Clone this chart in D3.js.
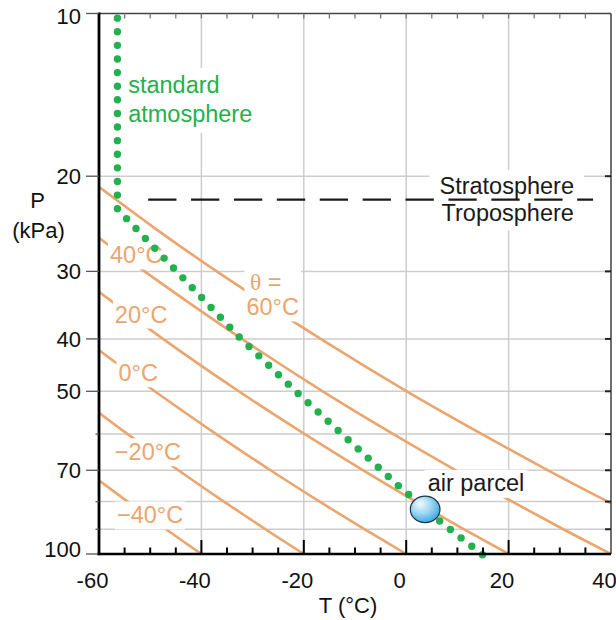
<!DOCTYPE html>
<html><head><meta charset="utf-8">
<script src="https://cdn.jsdelivr.net/npm/d3@7"></script>
<style>
body{margin:0;background:#fff}
svg{display:block;font-family:"Liberation Sans",Arial,Helvetica,sans-serif}
</style>
</head><body>
<svg id="c" width="616" height="620"></svg>
<script>
// ---------- data ----------
const tempMajorTicks = [-60, -40, -20, 0, 20, 40];
const tempTickLabels = ["-60", "-40", "-20", "0", "20", "40"];
const pressureLabelTicks = [10, 20, 30, 40, 50, 70, 100];
const pressureGridLines = [20, 30, 40, 50, 60, 70, 80, 90];
const pressureMinorTicks = [60, 80, 90];

// dry adiabats: temperature (°C) at each pressure level (kPa)
const adiabatPressures = [20, 25, 30, 40, 50, 60, 70, 80, 90, 100];
const thetaNames = ["−40°C", "−20°C", "0°C", "20°C", "40°C", "60°C"];
const adiabatMinus40 = [-125.9, -116.2, -107.9, -93.7, -81.9, -71.7, -62.6, -54.4, -46.9, -40];
const adiabatMinus20 = [-113.3, -102.8, -93.7, -78.3, -65.5, -54.4, -44.5, -35.6, -27.5, -20];
const adiabat0 = [-100.7, -89.3, -79.5, -62.9, -49.1, -37.1, -26.5, -16.9, -8.1, 0];
const adiabat20 = [-88.1, -75.9, -65.3, -47.5, -32.7, -19.8, -8.4, 1.9, 11.3, 20];
const adiabat40 = [-75.4, -62.4, -51.1, -32.1, -16.3, -2.5, 9.7, 20.7, 30.7, 40];
const adiabat60 = [-62.8, -49.0, -37.0, -16.7, 0.1, 14.8, 27.7, 39.4, 50.1, 60];

// standard atmosphere profile
const stdAtmP = [10.2, 23.0, 29.6, 39.7, 50.5, 61.5, 74.8, 87.0, 100.3];
const stdAtmT = [-56.4, -56.4, -45.4, -32.6, -21.1, -11.3, -1.5, 6.6, 14.9];

// tropopause
const tropopauseP = 22.1;
const tropopauseT = [-50.4, 36.5];

// air parcel
const parcelT = 3.7;
const parcelP = 82.7;

// ---------- drawing ----------
const svg = d3.select("#c");
const x = d3.scaleLinear().domain([-60, 40]).range([99, 611]);
const y = d3.scaleLog().domain([10, 100]).range([13.5, 554]);

const GREEN = "#22b14c";
const ORANGE = "#eba56d";
const GRID = "#cdcdcd";

svg.append("defs").append("clipPath").attr("id", "plot")
  .append("rect").attr("x", x(-60)).attr("y", y(10))
  .attr("width", x(40) - x(-60)).attr("height", y(100) - y(10));

// gridlines
const grid = svg.append("g").attr("stroke", GRID).attr("stroke-width", 1.5);
grid.selectAll(".gx").data(tempMajorTicks.filter(t => t > -60 && t < 40)).join("line")
  .attr("x1", d => x(d)).attr("x2", d => x(d)).attr("y1", y(10)).attr("y2", y(100));
grid.selectAll(".gy").data(pressureGridLines).join("line")
  .attr("x1", x(-60)).attr("x2", x(40)).attr("y1", d => y(d)).attr("y2", d => y(d));

// adiabats
const adiabats = [adiabatMinus40, adiabatMinus20, adiabat0, adiabat20, adiabat40, adiabat60];
const line = d3.line().x(d => x(d[0])).y(d => y(d[1])).curve(d3.curveCatmullRom);
svg.append("g").attr("clip-path", "url(#plot)")
  .selectAll("path").data(adiabats).join("path")
  .attr("d", arr => line(arr.map((t, i) => [t, adiabatPressures[i]])))
  .attr("fill", "none").attr("stroke", ORANGE).attr("stroke-width", 2.6);

// labels with white boxes
function boxedText(g, lines, opts) {
  const grp = g.append("g");
  const rect = grp.append("rect").attr("fill", "#fff");
  const txt = grp.append("text").attr("font-size", opts.size).attr("fill", opts.color)
    .attr("text-anchor", opts.anchor || "start");
  lines.forEach((l) => {
    const ts = txt.append("tspan").attr("x", l.x).attr("y", l.y);
    if (l.parts) {
      l.parts.forEach(p => ts.append("tspan").attr("font-family", p.f || null).text(p.t));
    } else ts.text(l.t);
  });
  const bb = txt.node().getBBox();
  const px = opts.px ?? 2, pt = opts.pt ?? 2, pb = opts.pb ?? 2;
  rect.attr("x", bb.x - px).attr("y", bb.y - pt).attr("width", bb.width + 2 * px)
    .attr("height", bb.height + pt + pb);
  return grp;
}
const labels = svg.append("g");

// adiabat labels (anchored near each line's left end)
const thetaLabelPos = [
  {t: -56.5, p: 87.8}, // −40
  {t: -56.9, p: 67.1}, // −20
  {t: -56.2, p: 47.9}, // 0
  {t: -56.9, p: 37.3}, // 20
  {t: -57.85, p: 29.0} // 40
];
thetaLabelPos.forEach((pos, i) => {
  boxedText(labels, [{x: x(pos.t), y: y(pos.p), t: thetaNames[i]}],
    {size: 23.5, color: ORANGE, px: 2, pt: 1, pb: 1});
});
boxedText(labels, [
  {x: x(-30.5), y: y(32.5), parts: [{t: "θ", f: "'Liberation Serif', 'DejaVu Serif', serif"}, {t: " ="}]},
  {x: x(-31.2), y: y(36.2), t: thetaNames[5]}
], {size: 23.5, color: ORANGE, px: 2, pt: -1, pb: 1});

// standard atmosphere label
boxedText(labels, [
  {x: x(-54.3), y: y(14.02), t: "standard"},
  {x: x(-54.3), y: y(15.86), t: "atmosphere"}
], {size: 23.5, color: GREEN, px: 4, pt: 4, pb: 6});

// stratosphere / troposphere
boxedText(labels, [{x: x(6.5), y: y(21.6), t: "Stratosphere"}],
  {size: 23.5, color: "#1a1a1a", px: 10, pt: 3, pb: 2});
boxedText(labels, [{x: x(6.9), y: y(24.25), t: "Troposphere"}],
  {size: 23.5, color: "#1a1a1a", px: 10, pt: 1, pb: 4});

// tropopause dashed line
svg.append("line")
  .attr("x1", x(tropopauseT[0])).attr("x2", x(tropopauseT[1]))
  .attr("y1", y(tropopauseP)).attr("y2", y(tropopauseP))
  .attr("stroke", "#1a1a1a").attr("stroke-width", 2.4)
  .attr("stroke-dasharray", "28.3,14.6");

// standard atmosphere dots (spacing tuned so a dot sits on both ends)
const stdPath = svg.append("path")
  .attr("d", d3.line().x(d => x(d[0])).y(d => y(d[1])).curve(d3.curveLinear)
    (stdAtmT.map((t, i) => [t, stdAtmP[i]])))
  .attr("fill", "none").attr("stroke", GREEN).attr("stroke-width", 7.4)
  .attr("stroke-linecap", "round");
const L = stdPath.node().getTotalLength();
const gap = L / Math.round(L / 13.62);
stdPath.attr("stroke-dasharray", `0,${gap}`);

// axes
const ax = svg.append("g");
ax.append("line").attr("x1", x(-60)).attr("x2", x(40)).attr("y1", y(10)).attr("y2", y(10))
  .attr("stroke", "#444").attr("stroke-width", 1.5);
ax.selectAll(".tt").data(x.ticks(20).filter(t => t > -60 && t < 40)).join("line")
  .attr("x1", d => x(d)).attr("x2", d => x(d)).attr("y1", y(10)).attr("y2", y(10) + 5)
  .attr("stroke", "#777").attr("stroke-width", 1.3);
ax.append("line").attr("x1", x(40)).attr("x2", x(40)).attr("y1", y(10)).attr("y2", y(100))
  .attr("stroke", "#333").attr("stroke-width", 1.4);
ax.selectAll(".rt").data(pressureGridLines).join("line")
  .attr("x1", x(40) - 6).attr("x2", x(40)).attr("y1", d => y(d)).attr("y2", d => y(d))
  .attr("stroke", "#222").attr("stroke-width", 2);
ax.append("line").attr("x1", x(-60)).attr("x2", x(-60)).attr("y1", y(10) - 1).attr("y2", y(100) + 1.2)
  .attr("stroke", "#000").attr("stroke-width", 2.8);
ax.selectAll(".lt").data(pressureLabelTicks).join("line")
  .attr("x1", x(-60) - 13).attr("x2", x(-60)).attr("y1", d => y(d)).attr("y2", d => y(d))
  .attr("stroke", "#555").attr("stroke-width", 1.3);
ax.selectAll(".lm").data(pressureMinorTicks).join("line")
  .attr("x1", x(-60) - 3.5).attr("x2", x(-60)).attr("y1", d => y(d)).attr("y2", d => y(d))
  .attr("stroke", "#555").attr("stroke-width", 1.3);
ax.selectAll(".ll").data(pressureLabelTicks).join("text")
  .attr("x", 81).attr("y", d => y(d) + (d === 10 ? 10.9 : d === 100 ? 3.2 : 7.9))
  .attr("text-anchor", "end").attr("font-size", 22).attr("fill", "#111")
  .text(d => d);
ax.append("line").attr("x1", x(-60) - 1.4).attr("x2", x(40)).attr("y1", y(100)).attr("y2", y(100))
  .attr("stroke", "#000").attr("stroke-width", 2.4);
ax.selectAll(".bm").data(x.ticks(20).filter(t => t > -60 && t < 40)).join("line")
  .attr("x1", d => x(d)).attr("x2", d => x(d)).attr("y1", y(100))
  .attr("y2", d => y(100) - (tempMajorTicks.includes(d) ? 14 : 6.5))
  .attr("stroke", "#000").attr("stroke-width", 2);
ax.selectAll(".bl").data(tempMajorTicks).join("text")
  .attr("x", d => x(d) - 6.5).attr("y", 588)
  .attr("text-anchor", "middle").attr("font-size", 22).attr("fill", "#111")
  .text((d, i) => tempTickLabels[i]);

// axis titles
svg.append("text").attr("x", 37.5).attr("y", 208).attr("text-anchor", "middle")
  .attr("font-size", 22).attr("fill", "#111").text("P");
svg.append("text").attr("x", 38.5).attr("y", 238).attr("text-anchor", "middle")
  .attr("font-size", 22).attr("fill", "#111").text("(kPa)");
svg.append("text").attr("x", 348).attr("y", 613).attr("text-anchor", "middle")
  .attr("font-size", 22).attr("fill", "#111").text("T (°C)");

// air parcel
const grad = svg.select("defs").append("radialGradient").attr("id", "pg")
  .attr("cx", "40%").attr("cy", "35%").attr("r", "65%").attr("fx", "32%").attr("fy", "28%");
grad.append("stop").attr("offset", "0%").attr("stop-color", "#f4fbff");
grad.append("stop").attr("offset", "55%").attr("stop-color", "#9ad6f3");
grad.append("stop").attr("offset", "100%").attr("stop-color", "#3fa9e0");
boxedText(svg, [{x: x(parcelT) + 2.5, y: y(parcelP) - 18.5, t: "air parcel"}],
  {size: 23.5, color: "#1a1a1a", px: 3, pt: 0, pb: 2});
svg.append("ellipse").attr("cx", x(parcelT)).attr("cy", y(parcelP))
  .attr("rx", 14.8).attr("ry", 13.3)
  .attr("fill", "url(#pg)").attr("stroke", "#1d3442").attr("stroke-width", 1.2);
</script>
</body></html>
